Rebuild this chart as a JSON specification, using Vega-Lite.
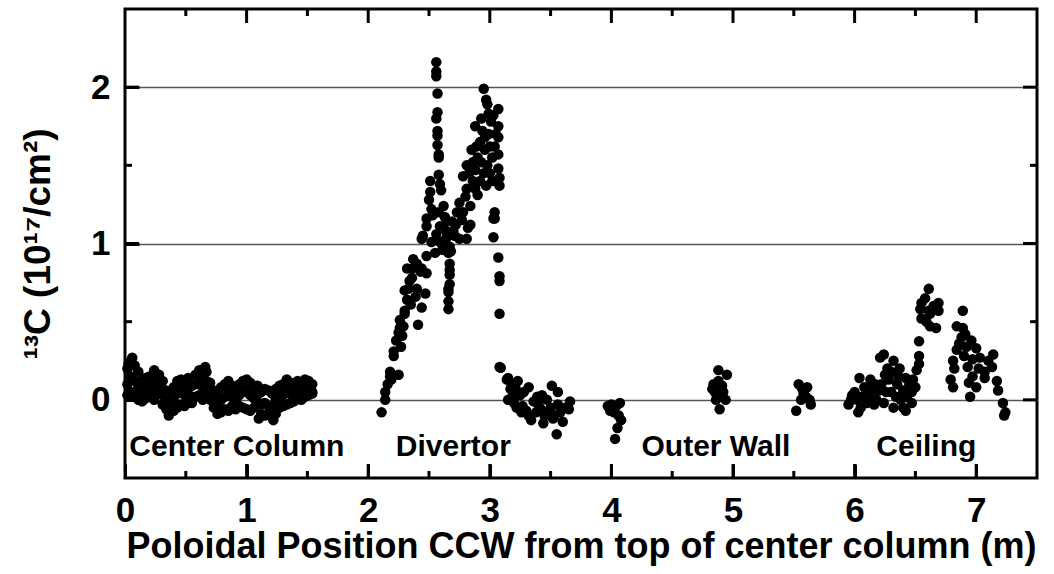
{
  "$schema": "https://vega.github.io/schema/vega-lite/v6.json",
  "width": 912,
  "height": 469,
  "autosize": "none",
  "padding": {"left": 125, "top": 9, "right": 17, "bottom": 96},
  "background": "white",
  "config": {
    "view": {"stroke": "black", "strokeWidth": 3},
    "font": "Liberation Sans"
  },
  "datasets": {
    "pts": [
      {"x":0.02,"y":0.20},{"x":0.02,"y":0.10},{"x":0.02,"y":0.03},
      {"x":0.05,"y":0.25},{"x":0.05,"y":0.15},{"x":0.05,"y":0.05},
      {"x":0.08,"y":0.22},{"x":0.08,"y":0.12},{"x":0.08,"y":0.02},
      {"x":0.11,"y":0.18},{"x":0.11,"y":0.08},{"x":0.11,"y":0.00},
      {"x":0.14,"y":0.12},{"x":0.14,"y":0.05},{"x":0.14,"y":-0.01},
      {"x":0.17,"y":0.14},{"x":0.17,"y":0.07},{"x":0.17,"y":0.01},
      {"x":0.20,"y":0.15},{"x":0.20,"y":0.09},{"x":0.20,"y":0.03},
      {"x":0.24,"y":0.14},{"x":0.24,"y":0.06},{"x":0.24,"y":0.00},
      {"x":0.28,"y":0.16},{"x":0.28,"y":0.10},{"x":0.28,"y":0.04},
      {"x":0.31,"y":0.12},{"x":0.31,"y":0.03},{"x":0.31,"y":-0.03},
      {"x":0.34,"y":0.06},{"x":0.34,"y":-0.02},{"x":0.34,"y":-0.06},
      {"x":0.37,"y":0.03},{"x":0.37,"y":-0.05},{"x":0.37,"y":-0.08},
      {"x":0.40,"y":0.08},{"x":0.40,"y":0.00},{"x":0.40,"y":-0.07},
      {"x":0.43,"y":0.12},{"x":0.43,"y":0.04},{"x":0.43,"y":-0.05},
      {"x":0.46,"y":0.13},{"x":0.46,"y":0.06},{"x":0.46,"y":-0.03},
      {"x":0.49,"y":0.10},{"x":0.49,"y":0.03},{"x":0.49,"y":-0.04},
      {"x":0.52,"y":0.14},{"x":0.52,"y":0.07},{"x":0.52,"y":0.00},
      {"x":0.55,"y":0.09},{"x":0.55,"y":0.02},{"x":0.55,"y":-0.02},
      {"x":0.58,"y":0.16},{"x":0.58,"y":0.10},{"x":0.58,"y":0.02},
      {"x":0.61,"y":0.19},{"x":0.61,"y":0.12},{"x":0.61,"y":0.03},
      {"x":0.64,"y":0.17},{"x":0.64,"y":0.08},{"x":0.64,"y":0.00},
      {"x":0.67,"y":0.18},{"x":0.67,"y":0.12},{"x":0.67,"y":0.04},
      {"x":0.70,"y":0.11},{"x":0.70,"y":0.05},{"x":0.70,"y":0.00},
      {"x":0.73,"y":0.06},{"x":0.73,"y":0.00},{"x":0.73,"y":-0.05},
      {"x":0.76,"y":0.03},{"x":0.76,"y":-0.04},{"x":0.76,"y":-0.09},
      {"x":0.79,"y":0.08},{"x":0.79,"y":0.00},{"x":0.79,"y":-0.08},
      {"x":0.82,"y":0.10},{"x":0.82,"y":0.02},{"x":0.82,"y":-0.06},
      {"x":0.85,"y":0.12},{"x":0.85,"y":0.04},{"x":0.85,"y":-0.07},
      {"x":0.88,"y":0.09},{"x":0.88,"y":0.02},{"x":0.88,"y":-0.04},
      {"x":0.91,"y":0.06},{"x":0.91,"y":-0.01},{"x":0.91,"y":-0.06},
      {"x":0.94,"y":0.10},{"x":0.94,"y":0.03},{"x":0.94,"y":-0.04},
      {"x":0.97,"y":0.12},{"x":0.97,"y":0.05},{"x":0.97,"y":-0.05},
      {"x":1.00,"y":0.13},{"x":1.00,"y":0.06},{"x":1.00,"y":-0.06},
      {"x":1.03,"y":0.11},{"x":1.03,"y":0.03},{"x":1.03,"y":-0.07},
      {"x":1.06,"y":0.08},{"x":1.06,"y":0.01},{"x":1.06,"y":-0.05},
      {"x":1.09,"y":0.09},{"x":1.09,"y":0.03},{"x":1.09,"y":-0.02},
      {"x":1.12,"y":0.05},{"x":1.12,"y":-0.03},{"x":1.12,"y":-0.09},
      {"x":1.15,"y":0.07},{"x":1.15,"y":-0.02},{"x":1.15,"y":-0.10},
      {"x":1.18,"y":0.06},{"x":1.18,"y":-0.04},{"x":1.18,"y":-0.09},
      {"x":1.21,"y":0.04},{"x":1.21,"y":-0.05},{"x":1.21,"y":-0.10},
      {"x":1.24,"y":0.07},{"x":1.24,"y":0.00},{"x":1.24,"y":-0.09},
      {"x":1.27,"y":0.09},{"x":1.27,"y":0.02},{"x":1.27,"y":-0.05},
      {"x":1.30,"y":0.10},{"x":1.30,"y":0.03},{"x":1.30,"y":-0.04},
      {"x":1.33,"y":0.13},{"x":1.33,"y":0.06},{"x":1.33,"y":-0.03},
      {"x":1.36,"y":0.11},{"x":1.36,"y":0.04},{"x":1.36,"y":-0.02},
      {"x":1.39,"y":0.10},{"x":1.39,"y":0.03},{"x":1.39,"y":-0.01},
      {"x":1.42,"y":0.12},{"x":1.42,"y":0.06},{"x":1.42,"y":0.01},
      {"x":1.45,"y":0.11},{"x":1.45,"y":0.05},{"x":1.45,"y":0.00},
      {"x":1.48,"y":0.13},{"x":1.48,"y":0.08},{"x":1.48,"y":0.02},
      {"x":1.51,"y":0.12},{"x":1.51,"y":0.07},{"x":1.51,"y":0.03},
      {"x":1.54,"y":0.10},{"x":1.54,"y":0.05},{"x":1.54,"y":0.04},
      {"x":0.06,"y":0.27},{"x":0.03,"y":0.23},{"x":0.66,"y":0.21},{"x":0.24,"y":0.19},{"x":1.10,"y":-0.12},{"x":1.22,"y":-0.13},{"x":0.36,"y":-0.10},
      {"x":2.11,"y":-0.08},{"x":2.14,"y":0.00},{"x":2.14,"y":0.05},{"x":2.16,"y":0.10},{"x":2.18,"y":0.15},{"x":2.19,"y":0.13},{"x":2.18,"y":0.18},{"x":2.25,"y":0.16},{"x":2.21,"y":0.28},{"x":2.21,"y":0.31},{"x":2.27,"y":0.34},{"x":2.23,"y":0.38},{"x":2.28,"y":0.41},{"x":2.25,"y":0.43},{"x":2.26,"y":0.46},{"x":2.29,"y":0.47},{"x":2.26,"y":0.51},{"x":2.30,"y":0.55},{"x":2.30,"y":0.57},{"x":2.35,"y":0.61},{"x":2.32,"y":0.64},{"x":2.39,"y":0.66},{"x":2.30,"y":0.70},{"x":2.33,"y":0.71},{"x":2.40,"y":0.71},{"x":2.47,"y":0.68},{"x":2.44,"y":0.59},{"x":2.41,"y":0.48},{"x":2.34,"y":0.76},{"x":2.36,"y":0.78},{"x":2.32,"y":0.84},{"x":2.36,"y":0.84},{"x":2.43,"y":0.82},{"x":2.48,"y":0.81},{"x":2.37,"y":0.90},{"x":2.48,"y":0.92},{"x":2.55,"y":0.94},{"x":2.40,"y":0.87},{"x":2.44,"y":0.84},
      {"x":2.44,"y":1.03},{"x":2.45,"y":1.05},{"x":2.48,"y":1.11},{"x":2.48,"y":1.16},{"x":2.52,"y":1.01},{"x":2.52,"y":1.22},{"x":2.51,"y":1.33},{"x":2.51,"y":1.40},{"x":2.50,"y":1.28},{"x":2.53,"y":1.18},{"x":2.59,"y":1.01},{"x":2.59,"y":1.11},{"x":2.62,"y":1.11},{"x":2.64,"y":1.03},{"x":2.60,"y":1.34},{"x":2.62,"y":1.24},{"x":2.58,"y":1.20},{"x":2.56,"y":1.06},
      {"x":2.56,"y":2.16},{"x":2.56,"y":2.10},{"x":2.56,"y":2.07},{"x":2.57,"y":1.96},{"x":2.57,"y":1.84},{"x":2.56,"y":1.80},{"x":2.57,"y":1.72},{"x":2.57,"y":1.69},{"x":2.57,"y":1.63},{"x":2.58,"y":1.57},{"x":2.58,"y":1.55},{"x":2.58,"y":1.44},{"x":2.59,"y":1.38},
      {"x":2.66,"y":0.94},{"x":2.67,"y":0.87},{"x":2.67,"y":0.83},{"x":2.67,"y":0.80},{"x":2.67,"y":0.74},{"x":2.66,"y":0.71},{"x":2.66,"y":0.69},{"x":2.66,"y":0.63},{"x":2.66,"y":0.58},{"x":2.65,"y":0.98},{"x":2.68,"y":0.95},
      {"x":2.67,"y":0.98},{"x":2.70,"y":1.08},{"x":2.71,"y":1.05},{"x":2.75,"y":1.03},{"x":2.81,"y":1.03},{"x":2.82,"y":1.10},{"x":2.73,"y":1.20},{"x":2.75,"y":1.26},{"x":2.78,"y":1.20},{"x":2.84,"y":1.12},{"x":2.84,"y":1.24},{"x":2.80,"y":1.30},{"x":2.81,"y":1.35},{"x":2.78,"y":1.43},{"x":2.81,"y":1.50},{"x":2.85,"y":1.60},{"x":2.88,"y":1.75},{"x":2.90,"y":1.31},{"x":2.86,"y":1.40},{"x":2.88,"y":1.47},{"x":2.90,"y":1.55},{"x":2.92,"y":1.65},{"x":2.94,"y":1.72},{"x":2.93,"y":1.80},{"x":2.95,"y":1.99},{"x":2.97,"y":1.92},{"x":2.98,"y":1.89},{"x":2.99,"y":1.83},{"x":3.01,"y":1.78},{"x":3.03,"y":1.82},{"x":3.07,"y":1.86},{"x":3.07,"y":1.75},{"x":2.99,"y":1.70},{"x":3.07,"y":1.68},{"x":3.07,"y":1.57},{"x":3.07,"y":1.48},{"x":3.08,"y":1.42},{"x":2.97,"y":1.37},{"x":3.08,"y":1.37},{"x":3.04,"y":1.20},{"x":3.04,"y":1.16},{"x":3.03,"y":1.16},{"x":3.03,"y":1.04},{"x":3.07,"y":0.91},{"x":3.08,"y":0.79},{"x":3.08,"y":0.76},{"x":3.08,"y":0.55},{"x":3.08,"y":0.21},{"x":2.96,"y":1.60},{"x":2.98,"y":1.50},{"x":3.00,"y":1.45},{"x":3.02,"y":1.55},{"x":3.04,"y":1.62},{"x":3.05,"y":1.70},{"x":2.95,"y":1.45},{"x":2.93,"y":1.52},{"x":2.96,"y":1.68},{"x":2.89,"y":1.62},{"x":2.86,"y":1.52},{"x":2.83,"y":1.45},{"x":3.00,"y":1.62},{"x":3.02,"y":1.40},{"x":2.92,"y":1.40},{"x":2.88,"y":1.35},{"x":2.77,"y":1.15},{"x":2.72,"y":1.12},{"x":2.69,"y":1.14},{"x":2.63,"y":1.17},{"x":2.64,"y":1.08},{"x":2.61,"y":0.96},
      {"x":3.09,"y":0.205},{"x":3.14,"y":0.13},{"x":3.15,"y":0.14},{"x":3.23,"y":0.12},{"x":3.32,"y":0.08},{"x":3.17,"y":0.07},{"x":3.15,"y":0.00},{"x":3.25,"y":0.03},{"x":3.22,"y":-0.05},{"x":3.30,"y":-0.07},{"x":3.34,"y":-0.13},{"x":3.40,"y":-0.03},{"x":3.44,"y":-0.15},{"x":3.51,"y":0.09},{"x":3.56,"y":0.05},{"x":3.56,"y":-0.03},{"x":3.60,"y":-0.14},{"x":3.55,"y":-0.22},{"x":3.66,"y":-0.01},{"x":3.65,"y":-0.06},{"x":3.47,"y":0.00},{"x":3.36,"y":-0.01},{"x":3.19,"y":0.03},{"x":3.20,"y":-0.02},{"x":3.27,"y":-0.04},{"x":3.28,"y":0.05},{"x":3.32,"y":-0.10},{"x":3.38,"y":-0.08},{"x":3.42,"y":-0.06},{"x":3.45,"y":-0.10},{"x":3.48,"y":-0.09},{"x":3.50,"y":-0.05},{"x":3.53,"y":-0.10},{"x":3.58,"y":-0.08},{"x":3.62,"y":-0.05},{"x":3.39,"y":0.02},{"x":3.43,"y":0.03},{"x":3.18,"y":0.10},{"x":3.21,"y":0.08},{"x":3.26,"y":-0.08},{"x":3.52,"y":-0.12},
      {"x":3.97,"y":-0.04},{"x":4.07,"y":-0.02},{"x":4.02,"y":-0.08},{"x":4.08,"y":-0.13},{"x":4.05,"y":-0.18},{"x":4.03,"y":-0.25},{"x":4.00,"y":-0.03},{"x":3.99,"y":-0.07},{"x":4.04,"y":-0.04},{"x":4.06,"y":-0.10},
      {"x":4.88,"y":0.19},{"x":4.95,"y":0.16},{"x":4.84,"y":0.10},{"x":4.83,"y":0.07},{"x":4.91,"y":0.09},{"x":4.92,"y":0.05},{"x":4.87,"y":0.03},{"x":4.94,"y":0.00},{"x":4.86,"y":0.00},{"x":4.89,"y":-0.06},{"x":4.88,"y":0.12},{"x":4.90,"y":0.02},{"x":4.85,"y":0.05},
      {"x":5.54,"y":0.10},{"x":5.61,"y":0.08},{"x":5.58,"y":0.04},{"x":5.63,"y":0.00},{"x":5.56,"y":0.00},{"x":5.64,"y":-0.03},{"x":5.52,"y":-0.07},{"x":5.57,"y":0.07},{"x":5.60,"y":0.02},
      {"x":5.98,"y":0.03},{"x":6.03,"y":-0.08},{"x":5.95,"y":-0.03},{"x":6.04,"y":0.14},{"x":6.13,"y":0.13},{"x":6.21,"y":0.27},{"x":6.24,"y":0.29},{"x":6.32,"y":0.25},{"x":6.37,"y":0.20},{"x":6.28,"y":0.13},{"x":6.20,"y":0.06},{"x":6.13,"y":0.03},{"x":6.10,"y":-0.02},{"x":6.24,"y":-0.02},{"x":6.32,"y":-0.05},{"x":6.40,"y":-0.05},{"x":6.42,"y":-0.07},{"x":6.34,"y":0.02},{"x":6.40,"y":0.06},{"x":6.47,"y":0.05},{"x":6.48,"y":0.13},{"x":6.51,"y":0.19},{"x":6.53,"y":0.23},{"x":6.53,"y":0.28},{"x":6.53,"y":0.375},{"x":5.97,"y":0.00},{"x":6.00,"y":0.05},{"x":6.06,"y":0.02},{"x":6.08,"y":0.08},{"x":6.15,"y":0.08},{"x":6.17,"y":0.10},{"x":6.18,"y":0.00},{"x":6.22,"y":0.10},{"x":6.25,"y":0.16},{"x":6.27,"y":0.20},{"x":6.30,"y":0.05},{"x":6.30,"y":0.18},{"x":6.35,"y":0.10},{"x":6.38,"y":0.00},{"x":6.43,"y":0.02},{"x":6.45,"y":0.10},{"x":6.50,"y":0.08},{"x":6.02,"y":0.00},{"x":6.11,"y":0.06},{"x":6.26,"y":0.05},{"x":6.36,"y":0.15},{"x":6.42,"y":0.14},{"x":6.47,"y":-0.02},{"x":6.05,"y":-0.05},{"x":6.16,"y":-0.03},
      {"x":6.61,"y":0.71},{"x":6.55,"y":0.62},{"x":6.69,"y":0.62},{"x":6.54,"y":0.58},{"x":6.61,"y":0.57},{"x":6.69,"y":0.57},{"x":6.55,"y":0.52},{"x":6.62,"y":0.47},{"x":6.67,"y":0.46},{"x":6.62,"y":0.55},{"x":6.58,"y":0.65},{"x":6.65,"y":0.60},{"x":6.59,"y":0.50},
      {"x":6.89,"y":0.57},{"x":6.84,"y":0.47},{"x":6.89,"y":0.46},{"x":6.88,"y":0.40},{"x":6.84,"y":0.32},{"x":6.92,"y":0.34},{"x":7.00,"y":0.33},{"x":6.81,"y":0.25},{"x":6.82,"y":0.20},{"x":6.79,"y":0.13},{"x":6.81,"y":0.08},{"x":6.93,"y":0.21},{"x":6.97,"y":0.26},{"x":7.03,"y":0.27},{"x":7.14,"y":0.29},{"x":7.13,"y":0.21},{"x":6.97,"y":0.15},{"x":6.94,"y":0.11},{"x":7.00,"y":0.08},{"x":6.95,"y":0.02},{"x":7.07,"y":0.14},{"x":7.17,"y":0.12},{"x":7.18,"y":0.06},{"x":7.22,"y":-0.02},{"x":7.24,"y":-0.08},{"x":7.23,"y":-0.10},{"x":7.07,"y":0.18},{"x":6.90,"y":0.28},{"x":6.96,"y":0.38},{"x":7.02,"y":0.20},{"x":7.10,"y":0.25},{"x":6.86,"y":0.36},{"x":6.91,"y":0.42}
    ],
    "labels": [
      {"x":0.92,"y":-0.30,"text":"Center Column"},
      {"x":2.70,"y":-0.30,"text":"Divertor"},
      {"x":4.86,"y":-0.30,"text":"Outer Wall"},
      {"x":6.59,"y":-0.30,"text":"Ceiling"}
    ],
    "xmaj": [{"v":1},{"v":2},{"v":3},{"v":4},{"v":5},{"v":6},{"v":7}],
    "xmin": [{"v":0.5},{"v":1.5},{"v":2.5},{"v":3.5},{"v":4.5},{"v":5.5},{"v":6.5}],
    "ymaj": [{"v":0},{"v":1},{"v":2}],
    "ymin": [{"v":0.5},{"v":1.5}]
  },
  "layer": [
    {
      "data": {"name": "pts"},
      "mark": {"type": "point", "filled": true, "shape": "circle", "size": 110, "color": "black", "opacity": 1, "strokeWidth": 0},
      "encoding": {
        "x": {"field": "x", "type": "quantitative",
          "scale": {"domain": [0, 7.5], "nice": false, "zero": false},
          "axis": {"orient": "bottom", "values": [0,1,2,3,4,5,6,7],
            "offset": -14, "ticks": true,
            "title": "Poloidal Position CCW from top of center column (m)",
            "titleFont": "Liberation Sans", "titleFontSize": 36, "titleFontWeight": "bold", "titleColor": "black", "titlePadding": 1,
            "labelFont": "Liberation Sans", "labelFontSize": 35, "labelFontWeight": "bold", "labelColor": "black",
            "format": "d",
            "labelPadding": 15, "labelFlush": false, "labelOverlap": false,
            "domain": false, "grid": false,
            "tickColor": "black", "tickWidth": 3, "tickSize": 14}},
        "y": {"field": "y", "type": "quantitative",
          "scale": {"domain": [-0.5, 2.5], "nice": false, "zero": false},
          "axis": {"orient": "left", "values": [0,1,2],
            "offset": -14, "ticks": true,
            "title": "¹³C (10¹⁷/cm²)",
            "titleFont": "Liberation Sans", "titleFontSize": 37, "titleFontWeight": "bold", "titleColor": "black", "titlePadding": 33,
            "labelFont": "Liberation Sans", "labelFontSize": 35, "labelFontWeight": "bold", "labelColor": "black",
            "format": "d",
            "labelPadding": 15, "labelFlush": false, "labelOverlap": false,
            "domain": false,
            "grid": true, "gridColor": "#555555", "gridWidth": 1.5,
            "tickColor": "black", "tickWidth": 3, "tickSize": 14}}
      }
    },
    {
      "data": {"name": "xmaj"},
      "mark": {"type": "point", "shape": "M0,0L0,-1", "size": 784, "filled": false, "stroke": "black", "strokeWidth": 3, "opacity": 1},
      "encoding": {
        "x": {"field": "v", "type": "quantitative", "axis": null},
        "y": {"datum": -0.5, "type": "quantitative", "axis": null}
      }
    },
    {
      "data": {"name": "xmaj"},
      "mark": {"type": "point", "shape": "M0,0L0,1", "size": 784, "filled": false, "stroke": "black", "strokeWidth": 3, "opacity": 1},
      "encoding": {
        "x": {"field": "v", "type": "quantitative", "axis": null},
        "y": {"datum": 2.5, "type": "quantitative", "axis": null}
      }
    },
    {
      "data": {"name": "xmin"},
      "mark": {"type": "point", "shape": "M0,0L0,-1", "size": 196, "filled": false, "stroke": "black", "strokeWidth": 3, "opacity": 1},
      "encoding": {
        "x": {"field": "v", "type": "quantitative", "axis": null},
        "y": {"datum": -0.5, "type": "quantitative", "axis": null}
      }
    },
    {
      "data": {"name": "xmin"},
      "mark": {"type": "point", "shape": "M0,0L0,1", "size": 196, "filled": false, "stroke": "black", "strokeWidth": 3, "opacity": 1},
      "encoding": {
        "x": {"field": "v", "type": "quantitative", "axis": null},
        "y": {"datum": 2.5, "type": "quantitative", "axis": null}
      }
    },
    {
      "data": {"name": "ymaj"},
      "mark": {"type": "point", "shape": "M0,0L1,0", "size": 784, "filled": false, "stroke": "black", "strokeWidth": 3, "opacity": 1},
      "encoding": {
        "y": {"field": "v", "type": "quantitative", "axis": null},
        "x": {"datum": 0, "type": "quantitative", "axis": null}
      }
    },
    {
      "data": {"name": "ymaj"},
      "mark": {"type": "point", "shape": "M0,0L-1,0", "size": 784, "filled": false, "stroke": "black", "strokeWidth": 3, "opacity": 1},
      "encoding": {
        "y": {"field": "v", "type": "quantitative", "axis": null},
        "x": {"datum": 7.5, "type": "quantitative", "axis": null}
      }
    },
    {
      "data": {"name": "ymin"},
      "mark": {"type": "point", "shape": "M0,0L1,0", "size": 196, "filled": false, "stroke": "black", "strokeWidth": 3, "opacity": 1},
      "encoding": {
        "y": {"field": "v", "type": "quantitative", "axis": null},
        "x": {"datum": 0, "type": "quantitative", "axis": null}
      }
    },
    {
      "data": {"name": "ymin"},
      "mark": {"type": "point", "shape": "M0,0L-1,0", "size": 196, "filled": false, "stroke": "black", "strokeWidth": 3, "opacity": 1},
      "encoding": {
        "y": {"field": "v", "type": "quantitative", "axis": null},
        "x": {"datum": 7.5, "type": "quantitative", "axis": null}
      }
    },
    {
      "data": {"name": "labels"},
      "mark": {"type": "text", "font": "Liberation Sans", "fontSize": 30, "fontWeight": "bold", "color": "black", "align": "center", "baseline": "middle"},
      "encoding": {
        "x": {"field": "x", "type": "quantitative", "axis": null},
        "y": {"field": "y", "type": "quantitative", "axis": null},
        "text": {"field": "text"}
      }
    }
  ],
  "resolve": {"axis": {"x": "independent", "y": "independent"}}
}
